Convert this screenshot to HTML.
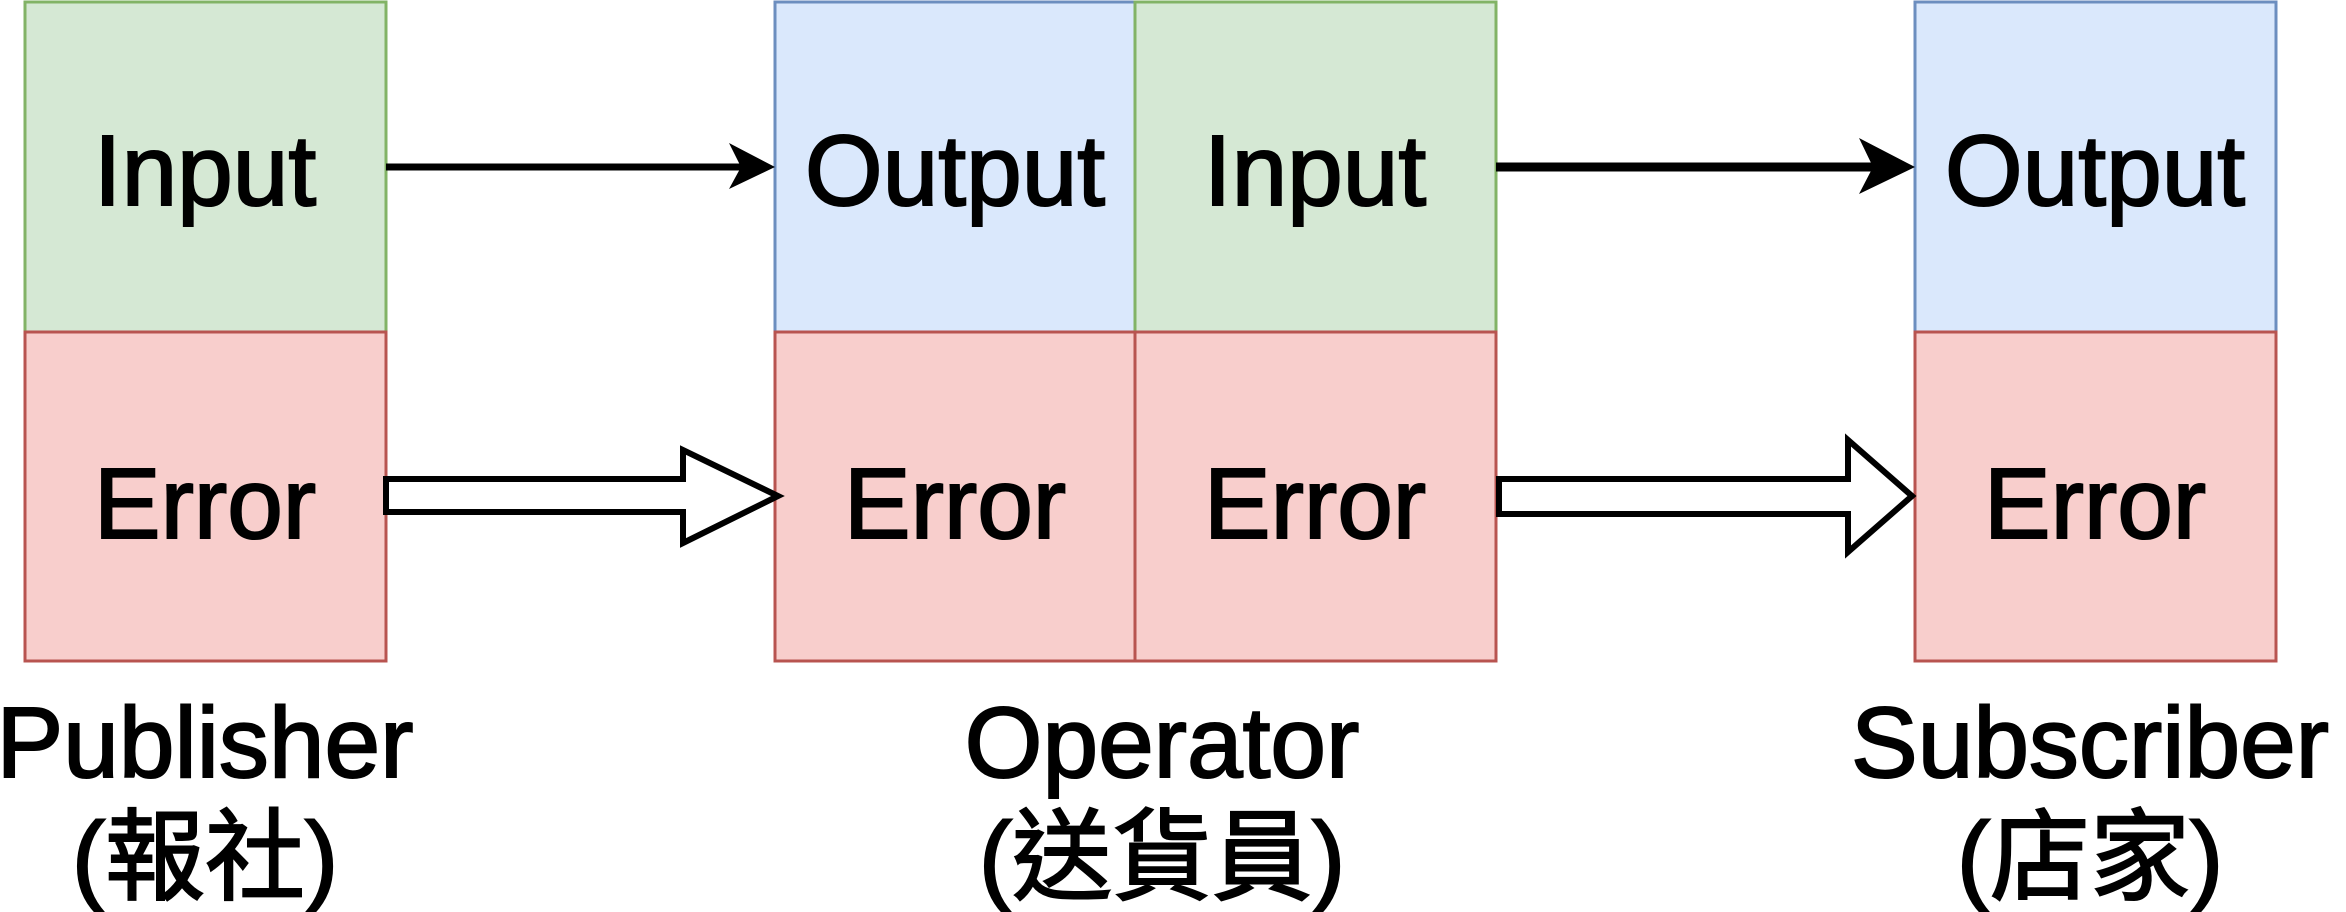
<!DOCTYPE html>
<html><head><meta charset="utf-8"><style>html,body{margin:0;padding:0;background:#fff;}svg{display:block}</style></head>
<body>
<svg width="2346" height="912" viewBox="0 0 2346 912" xmlns="http://www.w3.org/2000/svg">
<g stroke-width="3">
<rect x="25" y="2" width="361" height="330" fill="#d5e8d4" stroke="#82b366"/>
<rect x="25" y="332" width="361" height="329" fill="#f8cecc" stroke="#b85450"/>
<rect x="775" y="2" width="360" height="330" fill="#dae8fc" stroke="#6c8ebf"/>
<rect x="1135" y="2" width="361" height="330" fill="#d5e8d4" stroke="#82b366"/>
<rect x="775" y="332" width="360" height="329" fill="#f8cecc" stroke="#b85450"/>
<rect x="1135" y="332" width="361" height="329" fill="#f8cecc" stroke="#b85450"/>
<rect x="1915" y="2" width="361" height="330" fill="#dae8fc" stroke="#6c8ebf"/>
<rect x="1915" y="332" width="361" height="329" fill="#f8cecc" stroke="#b85450"/>
</g>
<line x1="386" y1="167" x2="745" y2="167" stroke="#000" stroke-width="7"/>
<polygon points="775,167 729,143 741,167 729,189" fill="#000"/>
<line x1="1496" y1="167" x2="1875" y2="167" stroke="#000" stroke-width="9"/>
<polygon points="1915,167 1859,138 1873,167 1859,194" fill="#000"/>
<polygon points="386,479 683,479 683,450 778,496 683,543 683,512 386,512" fill="#fff" stroke="#000" stroke-width="6"/>
<polygon points="1499,479 1848,479 1848,440 1912,496 1848,552 1848,514 1499,514" fill="#fff" stroke="#000" stroke-width="6"/>
<g font-family="'Comic Sans MS','Liberation Sans','Noto Sans CJK TC',sans-serif" font-size="100" text-anchor="middle" fill="#000" stroke="#000" stroke-width="2">
<text x="205" y="205">Input</text>
<text x="205" y="538">Error</text>
<text x="955" y="205">Output</text>
<text x="1315" y="205">Input</text>
<text x="955" y="538">Error</text>
<text x="1315" y="538">Error</text>
<text x="2095" y="205">Output</text>
<text x="2095" y="538">Error</text>
<text x="205" y="777">Publisher</text>
<text x="205" y="892">(報社)</text>
<text x="1162" y="777">Operator</text>
<text x="1162" y="892">(送貨員)</text>
<text x="2090" y="777">Subscriber</text>
<text x="2090" y="892">(店家)</text>
</g>
</svg>
</body></html>
